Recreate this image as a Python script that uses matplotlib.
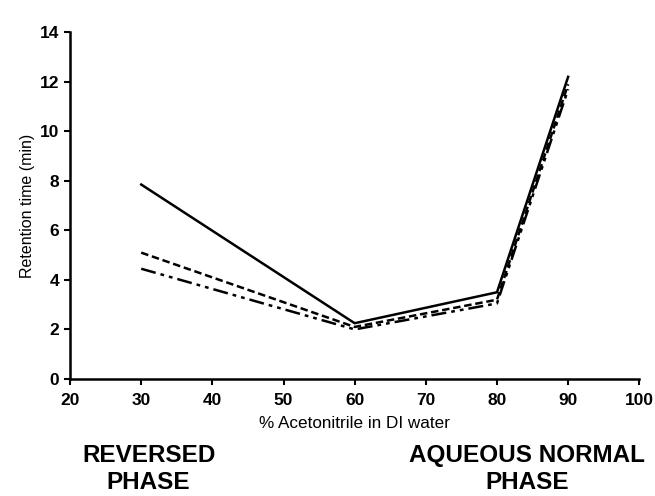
import matplotlib
matplotlib.use('Agg')
import matplotlib.pyplot as plt

# % acetonitrile and retention times (min)
acn_pct = [30, 60, 80, 90]
rt_solid = [7.85, 2.25, 3.5, 12.2]
rt_dashed = [5.1, 2.1, 3.2, 11.9]
rt_dashdot = [4.45, 2.0, 3.05, 11.7]

x_ticks = [20, 30, 40, 50, 60, 70, 80, 90, 100]
y_ticks = [0, 2, 4, 6, 8, 10, 12, 14]

plt.rcParams['font.family'] = ['Liberation Sans', 'DejaVu Sans']

fig = plt.figure(figsize=(6.55, 4.96), dpi=100)
ax = fig.add_axes([0.107, 0.236, 0.869, 0.699])

ax.plot(acn_pct, rt_solid, color='black', lw=1.8, ls='-')
ax.plot(acn_pct, rt_dashed, color='black', lw=1.8, ls=(0, (3, 1.5)))
ax.plot(acn_pct, rt_dashdot, color='black', lw=1.8, ls=(0, (6, 2, 1.5, 2, 1.5, 2)))

ax.set_xlim(20, 100)
ax.set_ylim(0, 14)
ax.set_xticks(x_ticks)
ax.set_yticks(y_ticks)
ax.tick_params(direction='out', length=4, width=1.5, labelsize=12.5)
ax.tick_params(axis='x', pad=6)
ax.tick_params(axis='y', pad=4)
for lbl in ax.get_xticklabels() + ax.get_yticklabels():
    lbl.set_fontweight('bold')

for side in ['top', 'right']:
    ax.spines[side].set_visible(False)
for side in ['left', 'bottom']:
    ax.spines[side].set_linewidth(1.8)

ax.set_xlabel('% Acetonitrile in DI water', fontsize=12.3, labelpad=6)
ax.set_ylabel('Retention time (min)', fontsize=11.5, labelpad=3)

fig.text(0.227, 0.054, 'REVERSED\nPHASE', ha='center', va='center',
         fontsize=17.5, fontweight='bold', linespacing=1.2)
fig.text(0.805, 0.054, 'AQUEOUS NORMAL\nPHASE', ha='center', va='center',
         fontsize=17.5, fontweight='bold', linespacing=1.2)

fig.savefig('out.png', dpi=100)
